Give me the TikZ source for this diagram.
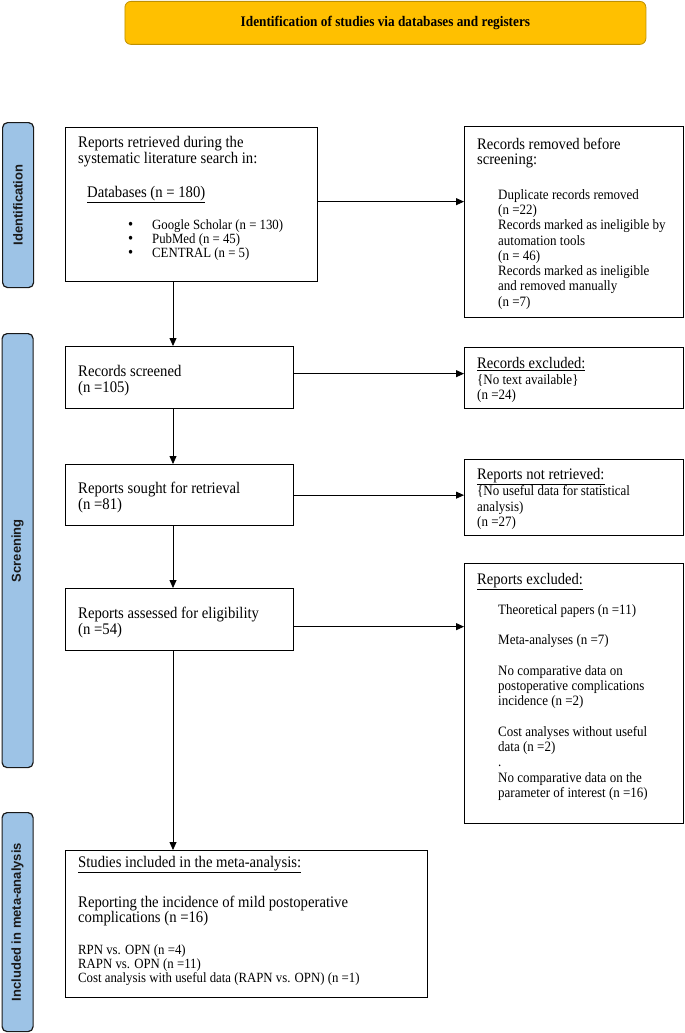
\documentclass[tikz,border=0pt]{standalone}
\usepackage{fontspec}
\setmainfont{Liberation Serif}
\newfontfamily\barfont{Liberation Sans}
\usetikzlibrary{arrows.meta,calc}
\definecolor{gold}{HTML}{FFC000}
\definecolor{goldedge}{HTML}{BF9000}
\definecolor{barblue}{HTML}{9DC3E6}
\newcommand\Lines[1]{\scalebox{1}[1.1]{\vtop{\lineskiplimit=-50pt\lineskip=0pt\halign{##\hfil\cr#1\crcr}}}}
\newcommand\bul{\makebox[24pt][l]{\raisebox{-0.3pt}{\fontsize{14.5}{14}\selectfont\textbullet}}}
\tikzset{
  box/.style={draw=black, line width=1.3pt, anchor=north west, inner sep=0pt, fill=white},
  bar/.style={draw=black!90, fill=barblue, line width=1.2pt, rounded corners=5pt, anchor=north west, inner sep=0pt},
  bartext/.style={rotate=90, font=\barfont\bfseries\fontsize{13}{15}\selectfont, text=black!90},
  txt/.style={anchor=base west, inner sep=0pt},
  arr/.style={-{Triangle[length=8pt,width=7pt]}, line width=0.8pt},
}
\begin{document}
\begin{tikzpicture}[x=1pt,y=-1pt]
\useasboundingbox (0,0) rectangle (685,1033);
% banner
\node[draw=goldedge, fill=gold, line width=0.8pt, rounded corners=6pt, anchor=north west,
      minimum width=521pt, minimum height=43pt, inner sep=0pt] (ban) at (124.5,1) {};
\node[font=\bfseries\fontsize{13.3}{15}\selectfont, inner sep=0pt] (bant) at (ban.center) {\scalebox{1}[1.1]{Identification of studies via databases and registers}};
% side bars
\node[bar, minimum width=31pt, minimum height=165pt] (sb1) at (2,122) {};
\node[bartext] (sl1) at (sb1.center) {Identification};
\node[bar, minimum width=31pt, minimum height=434pt] (sb2) at (1.5,333) {};
\node[bartext] (sl2) at (sb2.center) {Screening};
\node[bar, minimum width=31pt, minimum height=219pt] (sb3) at (1.5,812) {};
\node[bartext] (sl3) at (sb3.center) {Included in meta-analysis};
% column coordinate
\coordinate (col) at (173,0);
% box 1
\node[box, minimum width=252pt, minimum height=154pt] (b1) at (65,127) {};
\node[txt, font=\fontsize{14.7}{15.45}\selectfont] (t1a) at (78,147) {\Lines{Reports retrieved during the\cr systematic literature search in:}};
\node[txt, font=\fontsize{14.7}{15.45}\selectfont] (t1b) at (87,197) {\Lines{\underline{Databases (n = 180)}}};
\node[txt, font=\fontsize{12.8}{12.73}\selectfont] (t1c) at (128,229) {\Lines{\bul Google Scholar (n = 130)\cr \bul PubMed (n = 45)\cr \bul CENTRAL (n = 5)}};
% box 2
\node[box, minimum width=219pt, minimum height=191pt] (b2) at (464,126) {};
\node[txt, font=\fontsize{14.6}{13.8}\selectfont] (t2a) at (477,149) {\Lines{Records removed before\cr screening:}};
\node[txt, font=\fontsize{13}{13.86}\selectfont] (t2b) at (498,199.5) {\Lines{Duplicate records removed\cr (n =22)\cr Records marked as ineligible by\cr automation tools\cr (n = 46)\cr Records marked as ineligible\cr and removed manually\cr (n =7)}};
% box 3
\node[box, minimum width=228pt, minimum height=62pt] (b3) at (65,346) {};
\node[txt, font=\fontsize{14.7}{14.55}\selectfont] (t3) at (78,376) {\Lines{Records screened\cr (n =105)}};
% box 4
\node[box, minimum width=219pt, minimum height=61pt] (b4) at (464,347) {};
\node[txt, font=\fontsize{14.6}{13.8}\selectfont] (t4a) at (477,368) {\Lines{\underline{Records excluded:}}};
\node[txt, font=\fontsize{13}{13.64}\selectfont] (t4b) at (477,384.5) {\Lines{\{No text available\}\cr (n =24)}};
% box 5
\node[box, minimum width=228pt, minimum height=61pt] (b5) at (65,464) {};
\node[txt, font=\fontsize{14.7}{14.55}\selectfont] (t5) at (78,493) {\Lines{Reports sought for retrieval\cr (n =81)}};
% box 6
\node[box, minimum width=219pt, minimum height=76pt] (b6) at (464,459) {};
\node[txt, font=\fontsize{14.6}{13.8}\selectfont] (t6a) at (477,479) {\Lines{\underline{Reports not retrieved:}}};
\node[txt, font=\fontsize{13}{14.1}\selectfont] (t6b) at (477,495.5) {\Lines{\{No useful data for statistical\cr analysis)\cr (n =27)}};
% box 7
\node[box, minimum width=228pt, minimum height=62pt] (b7) at (65,588) {};
\node[txt, font=\fontsize{14.7}{14.55}\selectfont] (t7) at (78,618) {\Lines{Reports assessed for eligibility\cr (n =54)}};
% box 8
\node[box, minimum width=219pt, minimum height=260pt] (b8) at (464,563) {};
\node[txt, font=\fontsize{14.6}{13.8}\selectfont] (t8a) at (477,584) {\Lines{\underline{Reports excluded:}}};
\node[txt, font=\fontsize{13}{13.86}\selectfont] (t8b) at (498,614.5) {\Lines{Theoretical papers (n =11)\cr \cr Meta-analyses (n =7)\cr \cr No comparative data on\cr postoperative complications\cr incidence (n =2)\cr \cr Cost analyses without useful\cr data (n =2)\cr .\cr No comparative data on the\cr parameter of interest (n =16)}};
% box 9
\node[box, minimum width=362pt, minimum height=147pt] (b9) at (65,850) {};
\node[txt, font=\fontsize{14.7}{13.64}\selectfont] (t9a) at (78,867) {\Lines{\underline{Studies included in the meta-analysis:}}};
\node[txt, font=\fontsize{14.7}{13.64}\selectfont] (t9b) at (78,907) {\Lines{Reporting the incidence of mild postoperative\cr complications (n =16)}};
\node[txt, font=\fontsize{12.8}{12.7}\selectfont] (t9c) at (78,954.5) {\Lines{RPN vs. OPN (n =4)\cr RAPN vs. OPN (n =11)\cr Cost analysis with useful data (RAPN vs. OPN) (n =1)}};
% arrows
\draw[arr] ([yshift=3pt]b1.east) -- ([yshift=3pt]b1.east -| b2.west);
\draw[arr] (b1.south -| col) -- (b3.north -| col);
\draw[arr] ([yshift=4pt]b3.east) -- ([yshift=4pt]b3.east -| b4.west);
\draw[arr] (b3.south -| col) -- (b5.north -| col);
\draw[arr] (b5.east) -- (b5.east -| b6.west);
\draw[arr] (b5.south -| col) -- (b7.north -| col);
\draw[arr] ([yshift=-7pt]b7.east) -- ([yshift=-7pt]b7.east -| b8.west);
\draw[arr] (b7.south -| col) -- (b9.north -| col);
\end{tikzpicture}
\end{document}
